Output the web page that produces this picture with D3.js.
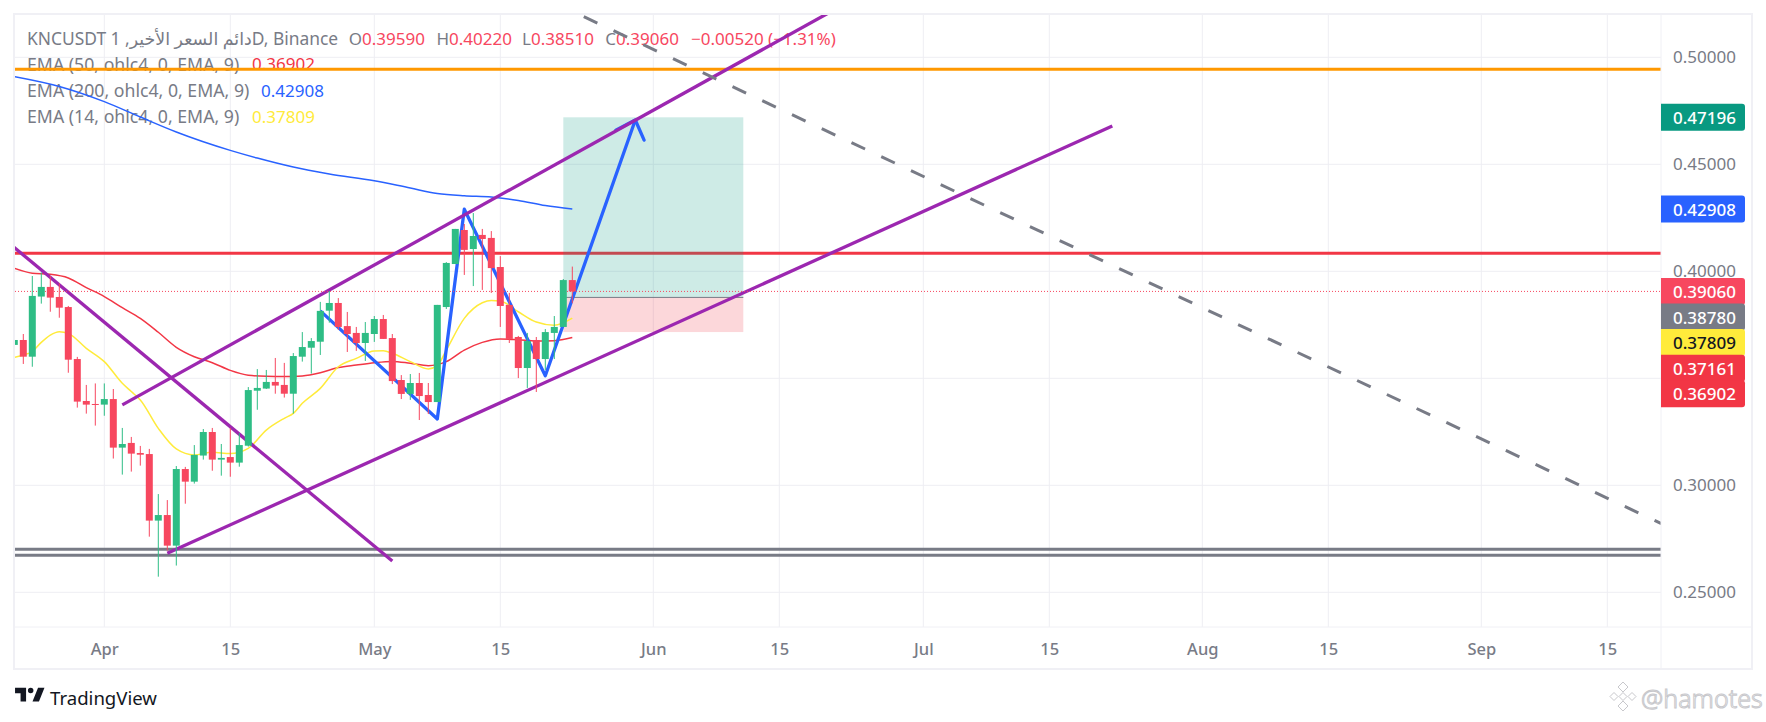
<!DOCTYPE html>
<html>
<head>
<meta charset="utf-8">
<style>
    body { margin: 0; background: #fff; }
    svg { display: block; }
    text { font-family: "Noto Sans", "DejaVu Sans", sans-serif; }
</style>
<script src="https://cdn.jsdelivr.net/npm/d3@7"></script>
</head>
<body>
<script>
// daily candles, 22 Mar to 23 May
const firstDay = "2025-03-22";
const opens = [.3656,.3679,.3601,.3882,.3927,.3880,.3833,.3590,.3394,.3380,
    .3377,.3403,.3176,.3198,.3151,.3146,.2835,.2861,.2718,.3076,.3017,.3139,.3249,.3120,.3132,.3106,.3185,.3442,.3452,.3483,.3469,.3428,.3601,.3643,.3671,.3816,.3852,.3744,.3712,.3665,
    .3707,.3777,.3688,.3492,.3427,.3478,.3422,.3389,.3833,.4034,.4193,.4104,.4170,.4156,.4020,.3843,.3693,.3548,.3679,.3590,.3712,.3740,.3959];
const highs = [.3700,.3707,.3978,.3995,.3978,.3944,.3838,.3600,.3469,.3476,
    .3476,.3450,.3268,.3226,.3184,.3170,.2959,.2931,.3090,.3086,.3188,.3263,.3268,.3193,.3268,.3244,.3459,.3543,.3539,.3595,.3572,.3618,.3716,.3688,.3857,.3908,.3875,.3810,.3740,.3763,
    .3791,.3796,.3707,.3515,.3520,.3525,.3478,.3843,.4043,.4198,.4221,.4272,.4198,.4188,.4071,.3899,.3698,.3712,.3693,.3730,.3791,.3964,.4022];
const lows = [.3620,.3567,.3554,.3849,.3811,.3783,.3526,.3363,.3335,.3279,
    .3325,.3125,.3050,.3064,.3092,.2760,.2573,.2695,.2625,.2914,.3008,.3120,.3068,.3045,.3040,.3087,.3181,.3353,.3450,.3428,.3410,.3335,.3578,.3522,.3609,.3760,.3726,.3623,.3628,.3581,
    .3670,.3684,.3473,.3403,.3399,.3305,.3333,.3389,.3824,.4034,.3983,.3931,.3913,.3899,.3740,.3665,.3501,.3455,.3436,.3539,.3590,.3740,.3851];
const closes = [.3679,.3601,.3885,.3927,.3877,.3830,.3587,.3391,.3377,.3377,
    .3403,.3176,.3193,.3148,.3143,.2835,.2861,.2718,.3076,.3017,.3142,.3249,.3120,.3128,.3106,.3188,.3445,.3455,.3483,.3466,.3428,.3604,.3646,.3674,.3815,.3852,.3740,.3707,.3665,.3712,
    .3777,.3684,.3487,.3427,.3478,.3417,.3389,.3843,.4039,.4198,.4100,.4165,.4151,.4015,.3838,.3684,.3548,.3674,.3590,.3716,.3740,.3959,.3906];

// moving averages, read every few days
const ema50Dates = ["03-22","03-24","03-26","03-28","03-30","04-01","04-03","04-05","04-07","04-09","04-11","04-13","04-15","04-17","04-19","04-21","04-23","04-25","04-27","04-29","05-01","05-03","05-05","05-07","05-09","05-11","05-13","05-15","05-17","05-19","05-21","05-23"];
const ema50Values = [.4014,.3991,.3986,.3969,.3924,.3882,.3830,.3780,.3715,.3645,.3601,.3573,.3537,.3514,.3509,.3508,.3511,.3526,.3550,.3562,.3573,.3579,.3570,.3559,.3578,.3632,.3668,.3684,.3680,.3674,.3676,.36902];
const ema14Dates = ["03-22","03-23","03-24","03-25","03-26","03-27","03-28","03-30","04-01","04-03","04-04","04-05","04-07","04-09","04-11","04-13","04-15","04-17","04-19","04-21","04-22","04-23","04-25","04-27","04-29","05-01","05-02","05-03","05-05","05-07","05-08","05-09","05-11","05-13","05-14","05-15","05-17","05-19","05-21","05-23"];
const ema14Values = [.3598,.3609,.3625,.3668,.3702,.3718,.3710,.3640,.3578,.3477,.3438,.3399,.3266,.3170,.3142,.3154,.3149,.3173,.3258,.3313,.3336,.3383,.3453,.3554,.3593,.3628,.3629,.3617,.3578,.3544,.3559,.3632,.3780,.3853,.3864,.3861,.3811,.3763,.3748,.37809];
const ema200Dates = ["03-22","03-27","04-01","04-05","04-09","04-15","04-18","04-22","04-26","05-01","05-05","05-08","05-11","05-14","05-17","05-20","05-23"];
const ema200Values = [.4910,.4864,.4793,.4721,.4651,.4565,.4529,.4487,.4455,.4423,.4389,.4364,.4353,.4347,.4331,.4307,.42908];

// drawings
const levelPrices = [.4944, .4084, .2701, .2673];
const levelColors = ["#FF9800", "#F23645", "#787B86", "#787B86"];
const channelTop = [["04-03", .3376], ["07-01", .5453]];
const channelBottom = [["04-08", .2682], ["07-22", .4679]];
const fallingLine = [["03-21", .4146], ["05-03", .2646]];
const dashedLine = [["05-23", .5215], ["09-21", .2821]];
const zigzag = [["04-25", .3815], ["05-08", .3310], ["05-11", .4290], ["05-20", .3512], ["05-30", .4707]];
const positionDates = ["05-22", "06-11"];
const positionPrices = [.47196, .38780, .37161];

// axes
const priceTicks = [.25, .30, .35, .40, .45, .50];
const priceLabels = [.25, .30, .40, .45, .50]; // .35 sits behind the price tags
const dateTicks = ["04-01","04-15","05-01","05-15","06-01","06-15","07-01","07-15","08-01","08-15","09-01","09-15"];
const dateLabels = ["Apr","15","May","15","Jun","15","Jul","15","Aug","15","Sep","15"];

// tags on the price axis, top to bottom
const tagValues = [.47196, .42908, .39060, .38780, .37809, .37161, .36902];
const tagColors = ["#089981", "#2962FF", "#F7475F", "#787B86", "#FFEB3B", "#F23645", "#F23645"];
const tagInk = ["#fff", "#fff", "#fff", "#fff", "#131722", "#fff", "#fff"];

// legend
const legendTitle = "KNCUSDT دائم السعر الأخير, 1D, Binance";
const ohlcNames = ["O", "H", "L", "C"];
const ohlcValues = ["0.39590", "0.40220", "0.38510", "0.39060"];
const changeText = "−0.00520 (−1.31%)";
const emaNames = ["EMA (50, ohlc4, 0, EMA, 9)", "EMA (200, ohlc4, 0, EMA, 9)", "EMA (14, ohlc4, 0, EMA, 9)"];
const emaLast = ["0.36902", "0.42908", "0.37809"];
const emaColors = ["#F23645", "#2962FF", "#FFEB3B"];

const width = 1766, height = 722;
const paneLeft = 15, paneRight = 1661, paneTop = 15, paneBottom = 627, frameRight = 1751, frameBottom = 668;
const gridColor = "#EEEEF3", frameColor = "#F0F0F5", textColor = "#787B86";
const up = "#2EBD85", down = "#F7475F", purple = "#9C27B0", blue = "#2962FF";
const fontSize = 17, nameSize = 17.7;

const day = s => new Date(Date.UTC(2025, +s.slice(0, 2) - 1, +s.slice(3)));

const x = d3.scaleUtc()
    .domain([day("04-01"), day("09-15")])
    .range([104.3, 1607.3]);
const y = d3.scaleLinear()
    .domain([.25, .5])
    .range([592.3, 57.3]);

const candles = opens.map((o, i) => ({
    date: d3.utcDay.offset(new Date(firstDay), i),
    open: o, high: highs[i], low: lows[i], close: closes[i]
}));

const svg = d3.select("body").append("svg")
    .attr("width", width)
    .attr("height", height);

svg.append("defs").append("clipPath").attr("id", "pane")
    .append("rect")
    .attr("x", paneLeft)
    .attr("y", paneTop)
    .attr("width", paneRight - paneLeft)
    .attr("height", paneBottom - paneTop);

// grid
const grid = svg.append("g").attr("stroke", gridColor).attr("stroke-width", 1);
grid.selectAll(".v").data(dateTicks).join("line")
    .attr("x1", d => x(day(d))).attr("x2", d => x(day(d)))
    .attr("y1", paneTop).attr("y2", paneBottom);
grid.selectAll(".h").data(priceTicks).join("line")
    .attr("x1", paneLeft).attr("x2", paneRight)
    .attr("y1", d => y(d)).attr("y2", d => y(d));

// legend sits under the drawings
const legend = svg.append("g").attr("font-size", fontSize).attr("dominant-baseline", "central");
legend.append("text").attr("x", 27).attr("y", 38).attr("font-size", 17.4).attr("fill", textColor).attr("direction", "ltr").text(legendTitle);
const ohlcX = [362, 449, 531, 616];
ohlcNames.forEach((n, i) => {
    legend.append("text").attr("x", ohlcX[i]).attr("y", 38).attr("text-anchor", "end").attr("fill", textColor).text(n);
    legend.append("text").attr("x", ohlcX[i]).attr("y", 38).attr("fill", down).text(ohlcValues[i]);
});
legend.append("text").attr("x", 691).attr("y", 38).attr("fill", down).text(changeText);
const emaRowY = [63.5, 90, 116];
const emaValueX = [252, 261, 252];
emaNames.forEach((n, i) => {
    legend.append("text").attr("x", 27).attr("y", emaRowY[i]).attr("font-size", nameSize).attr("fill", textColor).text(n);
    legend.append("text").attr("x", emaValueX[i]).attr("y", emaRowY[i]).attr("fill", emaColors[i]).text(emaLast[i]);
});

const chart = svg.append("g").attr("clip-path", "url(#pane)");

// horizontal levels
chart.selectAll(".level").data(levelPrices).join("line")
    .attr("x1", paneLeft).attr("x2", paneRight)
    .attr("y1", d => y(d)).attr("y2", d => y(d))
    .attr("stroke", (d, i) => levelColors[i])
    .attr("stroke-width", 3);

// long position box
const boxLeft = x(day(positionDates[0])), boxRight = x(day(positionDates[1]));
chart.append("rect")
    .attr("x", boxLeft).attr("width", boxRight - boxLeft)
    .attr("y", y(positionPrices[0])).attr("height", y(positionPrices[1]) - y(positionPrices[0]))
    .attr("fill", "#089981").attr("fill-opacity", .2);
chart.append("rect")
    .attr("x", boxLeft).attr("width", boxRight - boxLeft)
    .attr("y", y(positionPrices[1])).attr("height", y(positionPrices[2]) - y(positionPrices[1]))
    .attr("fill", "#F23645").attr("fill-opacity", .2);
chart.append("line")
    .attr("x1", boxLeft).attr("x2", boxRight)
    .attr("y1", y(positionPrices[1])).attr("y2", y(positionPrices[1]))
    .attr("stroke", "#787B86").attr("stroke-width", 1);

// moving averages
const emaLine = d3.line().x(d => x(day(d[0]))).y(d => y(d[1])).curve(d3.curveMonotoneX);
[[ema50Dates, ema50Values, "#F23645"], [ema14Dates, ema14Values, "#FFEB3B"], [ema200Dates, ema200Values, blue]].forEach(([ds, vs, color]) => {
    chart.append("path")
        .attr("fill", "none")
        .attr("stroke", color)
        .attr("stroke-width", 1.5)
        .attr("d", emaLine(d3.zip(ds, vs)));
});

// zigzag and its arrow head
const straight = d3.line().x(d => x(day(d[0]))).y(d => y(d[1]));
chart.append("path")
    .attr("fill", "none").attr("stroke", blue).attr("stroke-width", 3.3).attr("stroke-linejoin", "round")
    .attr("d", straight(zigzag));
const tip = zigzag[zigzag.length - 1], prev = zigzag[zigzag.length - 2];
const tipX = x(day(tip[0])), tipY = y(tip[1]);
const back = Math.atan2(y(prev[1]) - tipY, x(day(prev[0])) - tipX);
const headSize = 22, headAngle = 43 * Math.PI / 180;
chart.append("path")
    .attr("fill", "none").attr("stroke", blue).attr("stroke-width", 3.3).attr("stroke-linecap", "round").attr("stroke-linejoin", "round")
    .attr("d", d3.line()([
        [tipX + headSize * Math.cos(back + headAngle), tipY + headSize * Math.sin(back + headAngle)],
        [tipX, tipY],
        [tipX + headSize * Math.cos(back - headAngle), tipY + headSize * Math.sin(back - headAngle)]
    ]));

// trend lines
[channelTop, channelBottom, fallingLine].forEach(pts => {
    chart.append("path")
        .attr("fill", "none").attr("stroke", purple).attr("stroke-width", 3.3)
        .attr("d", straight(pts));
});
chart.append("path")
    .attr("fill", "none").attr("stroke", "#787B86").attr("stroke-width", 3)
    .attr("stroke-dasharray", "15 17.87").attr("stroke-dashoffset", -12.7)
    .attr("d", straight(dashedLine));

// last price
chart.append("line")
    .attr("x1", paneLeft).attr("x2", paneRight)
    .attr("y1", y(closes[closes.length - 1])).attr("y2", y(closes[closes.length - 1]))
    .attr("stroke", down).attr("stroke-width", 1).attr("stroke-dasharray", "1 2");

// candles on top of everything
const bars = chart.selectAll(".candle").data(candles).join("g")
    .attr("fill", d => d.close >= d.open ? up : down)
    .attr("stroke", d => d.close >= d.open ? up : down);
bars.append("line")
    .attr("x1", d => x(d.date)).attr("x2", d => x(d.date))
    .attr("y1", d => y(d.high)).attr("y2", d => y(d.low))
    .attr("stroke-width", 1);
bars.append("rect")
    .attr("x", d => x(d.date) - 3.5).attr("width", 7)
    .attr("y", d => y(Math.max(d.open, d.close)))
    .attr("height", d => Math.max(1, Math.abs(y(d.open) - y(d.close))))
    .attr("stroke", "none");

// frame
const frame = svg.append("g").attr("stroke", frameColor).attr("fill", "none");
frame.append("rect")
    .attr("x", paneLeft - 1).attr("y", paneTop - 1)
    .attr("width", frameRight - paneLeft + 2).attr("height", frameBottom - paneTop + 2)
    .attr("stroke-width", 2);
frame.append("line").attr("x1", paneLeft).attr("x2", frameRight).attr("y1", paneBottom).attr("y2", paneBottom).attr("stroke-width", 1);
frame.append("line").attr("x1", paneRight).attr("x2", paneRight).attr("y1", paneTop).attr("y2", frameBottom).attr("stroke-width", 1);

// axes
const xAxis = svg.append("g")
    .attr("transform", `translate(0,649)`)
    .call(d3.axisBottom(x)
        .tickValues(dateTicks.map(day))
        .tickFormat((d, i) => dateLabels[i])
        .tickSize(0)
        .tickPadding(0));
xAxis.select(".domain").remove();
xAxis.selectAll("text").attr("y", 0).attr("dy", ".35em")
    .attr("font-size", 16.5).attr("font-weight", 500).attr("fill", textColor);

const yAxis = svg.append("g")
    .attr("transform", `translate(1673,0)`)
    .call(d3.axisRight(y)
        .tickValues(priceLabels)
        .tickFormat(d3.format(".5f"))
        .tickSize(0)
        .tickPadding(0));
yAxis.select(".domain").remove();
yAxis.selectAll("text").attr("x", 0)
    .attr("font-size", fontSize).attr("fill", textColor);

// price tags, pushed down when they would overlap
const tagHeight = 25.6, tagWidth = 84;
let lastY = -Infinity;
const tagY = tagValues.map(v => {
    lastY = Math.max(y(v), lastY + tagHeight);
    return lastY;
});
const tags = svg.append("g");
tagValues.forEach((v, i) => {
    const top = tagY[i] - 13.5, left = paneRight, r = 3, w = tagWidth, h = 27;
    tags.append("path")
        .attr("fill", tagColors[i])
        .attr("d", `M${left},${top}H${left + w - r}a${r},${r} 0 0 1 ${r},${r}V${top + h - r}a${r},${r} 0 0 1 ${-r},${r}H${left}Z`);
    tags.append("text")
        .attr("x", 1673).attr("y", tagY[i])
        .attr("dominant-baseline", "central")
        .attr("font-size", fontSize).attr("font-weight", 500)
        .attr("fill", tagInk[i])
        .text(v.toFixed(5));
});

// branding
svg.append("path")
    .attr("transform", "translate(13.2,682.2) scale(.92)")
    .attr("fill", "#131722")
    .attr("d", "M14 6H2v6h6v9h6V6zm14 15h-7l6-15h7l-6 15zm-9-9a3 3 0 100-6 3 3 0 000 6z");
svg.append("text")
    .attr("x", 50).attr("y", 697)
    .attr("dominant-baseline", "central")
    .attr("font-size", 18.6).attr("fill", "#131722")
    .text("TradingView");

// watermark
const mark = svg.append("g").attr("fill", "#fff").attr("stroke", "#C8C8CC").attr("stroke-width", 1);
const diamond = (cx, cy, r) => `M${cx},${cy - r}L${cx + r},${cy}L${cx},${cy + r}L${cx - r},${cy}Z`;
[[1623, 687, 5], [1614, 696.5, 4], [1632, 696.5, 4], [1623, 696.5, 4], [1623, 706, 5]].forEach(d => {
    mark.append("path").attr("d", diamond(...d));
});
mark.append("text")
    .attr("x", 1641).attr("y", 698)
    .attr("dominant-baseline", "central")
    .attr("font-size", 25).attr("font-weight", 300)
    .text("@hamotes");
</script>
</body>
</html>
